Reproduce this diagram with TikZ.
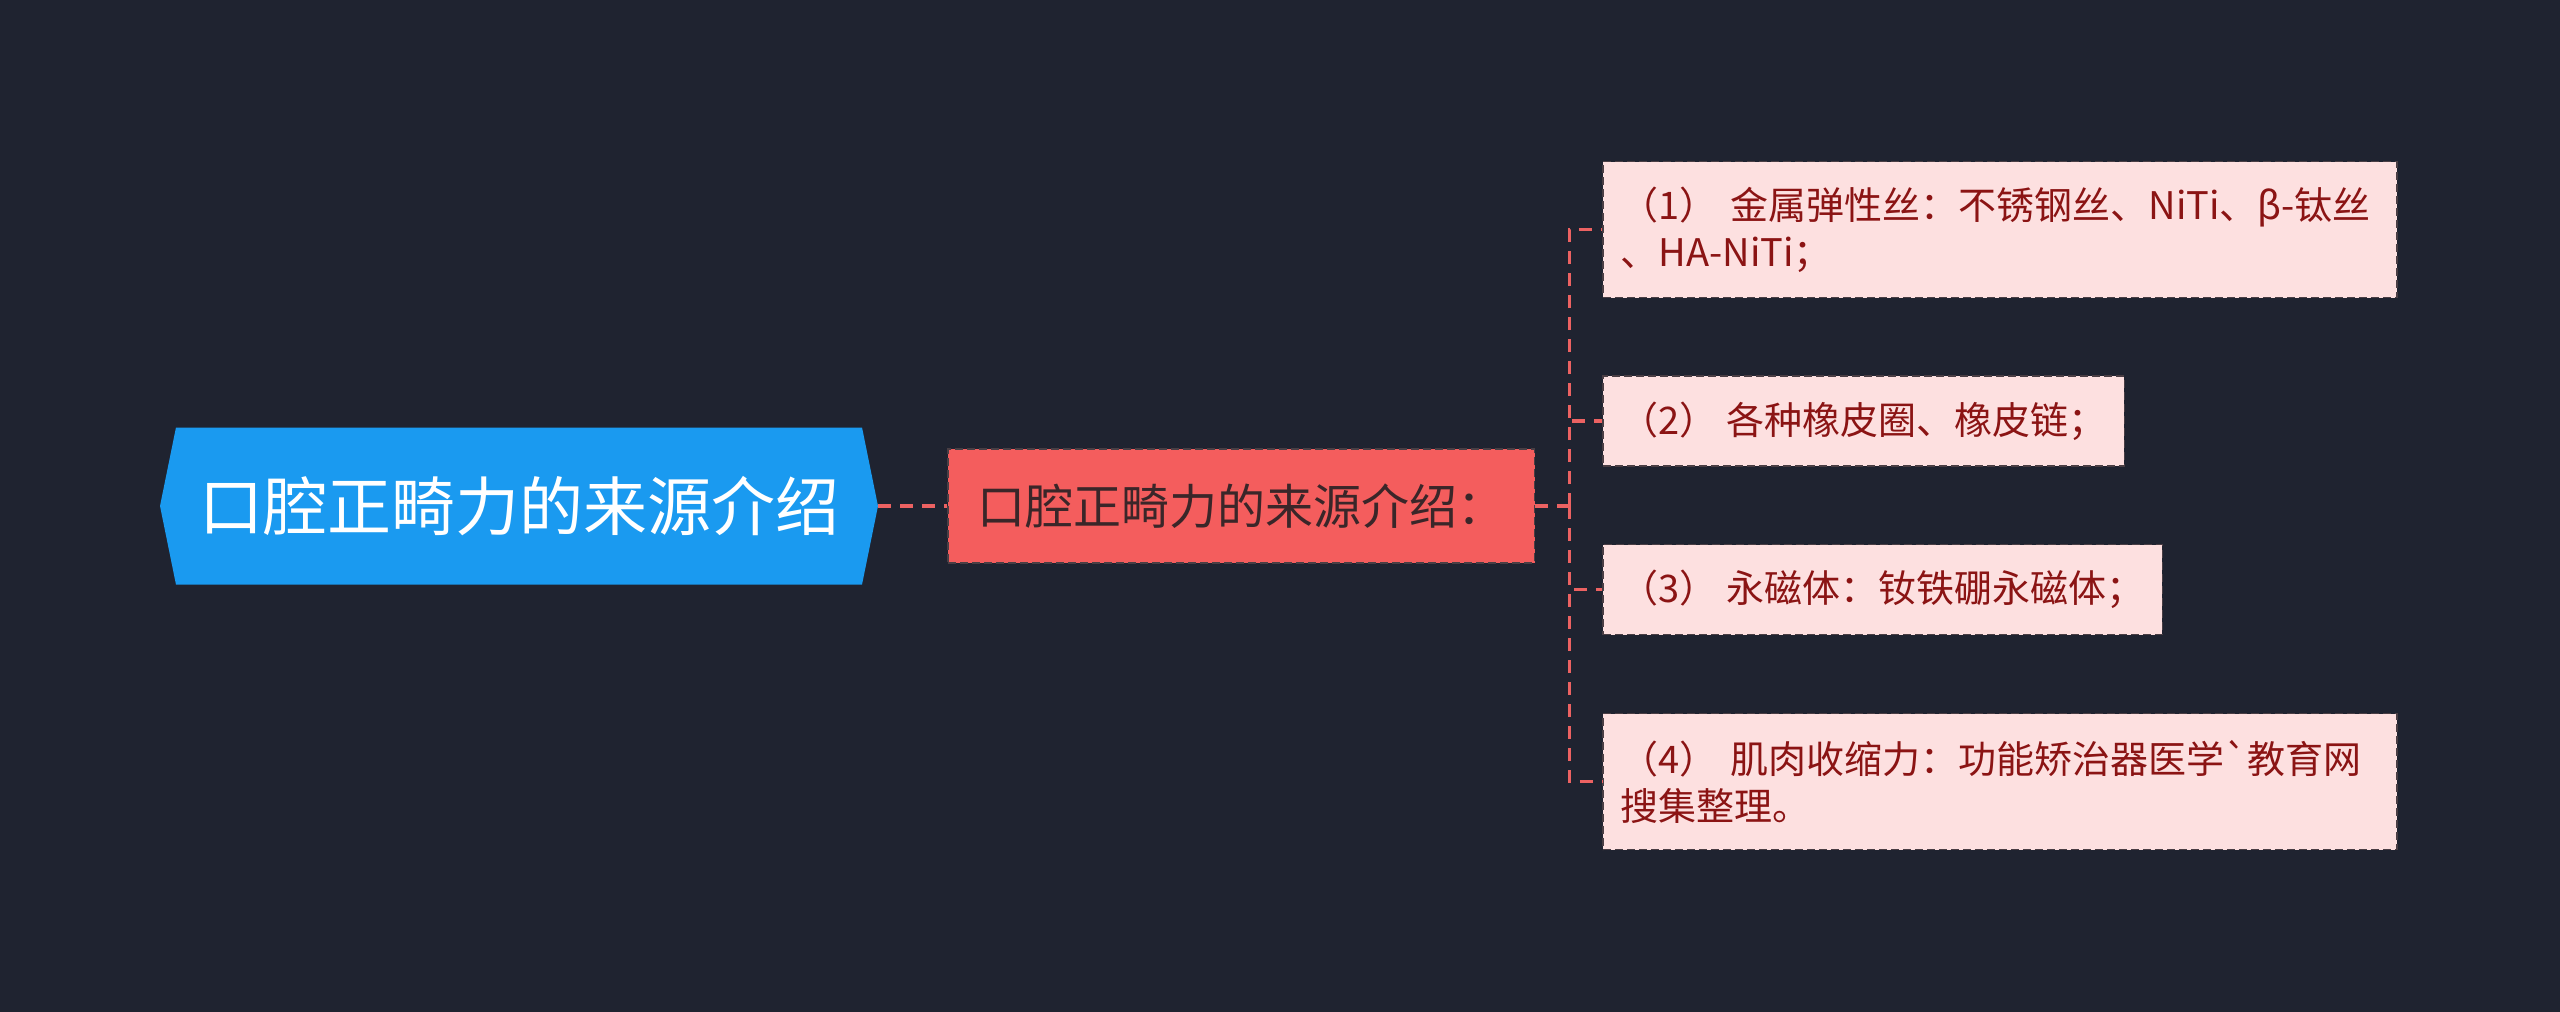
\documentclass[tikz,border=0pt]{standalone}
\usepackage{fontspec}
\setmainfont{Noto Sans CJK SC}
\usetikzlibrary{positioning,shapes.symbols}
\definecolor{bgnavy}{HTML}{1F2330}
\definecolor{rootblue}{HTML}{1A9AF0}
\definecolor{midred}{HTML}{F45D5D}
\definecolor{midtext}{HTML}{3A2629}
\definecolor{leafpink}{HTML}{FDE0E0}
\definecolor{leaftext}{HTML}{8B1414}
\definecolor{linkred}{HTML}{EC6262}
\definecolor{edgegrey}{HTML}{4A3E44}
\tikzset{
    topic/.style={shape=signal, signal to=west and east, signal pointer angle=157,
        fill=rootblue, text=white, font=\fontsize{32}{38}\selectfont,
        minimum width=359pt, minimum height=78.5pt, inner sep=0pt},
    subtopic/.style={draw=edgegrey, dash pattern=on 4pt off 2pt, line width=0.8pt,
        fill=midred, text=midtext, font=\fontsize{24}{29}\selectfont,
        minimum height=57pt, inner xsep=14.6pt},
    leaf/.style={draw=edgegrey, dash pattern=on 4pt off 2pt, line width=0.8pt,
        fill=leafpink, text=leaftext, font=\fontsize{19}{23.5}\selectfont,
        anchor=west, inner xsep=9pt, inner ysep=10pt, minimum height=45pt},
    twoline/.style={text width=379pt, align=left, minimum height=68pt},
    link/.style={draw=linkred, line width=1.7pt, dash pattern=on 6.5pt off 4.5pt}
}

\begin{document}
\begin{tikzpicture}[x=0.5pt,y=-0.5pt]
\useasboundingbox[fill=bgnavy] (0,0) rectangle (2560,1012);

\node[topic] (root) at (519,506) {口腔正畸力的来源介绍};
\node[subtopic, right=34.5pt of root] (mid) {口腔正畸力的来源介绍：};
\coordinate[right=17pt of mid.east] (hub);

\node[leaf, twoline] (leaf1) at (1602,229.5)
    {（1） 金属弹性丝：不锈钢丝、NiTi、β-钛丝\\、HA-NiTi；};
\node[leaf] (leaf2) at (1602,421) {（2） 各种橡皮圈、橡皮链；};
\node[leaf] (leaf3) at (1602,589.5) {（3） 永磁体：钕铁硼永磁体；};
\node[leaf, twoline] (leaf4) at (1602,781.5)
    {（4） 肌肉收缩力：功能矫治器医学\textasciigrave 教育网\\搜集整理。};

\draw[link] (root.east) -- (mid.west);
\draw[link] (mid.east) -- (hub);
\foreach \n in {1,...,4}
    \draw[link] (hub) |- (leaf\n.west);
\end{tikzpicture}
\end{document}
